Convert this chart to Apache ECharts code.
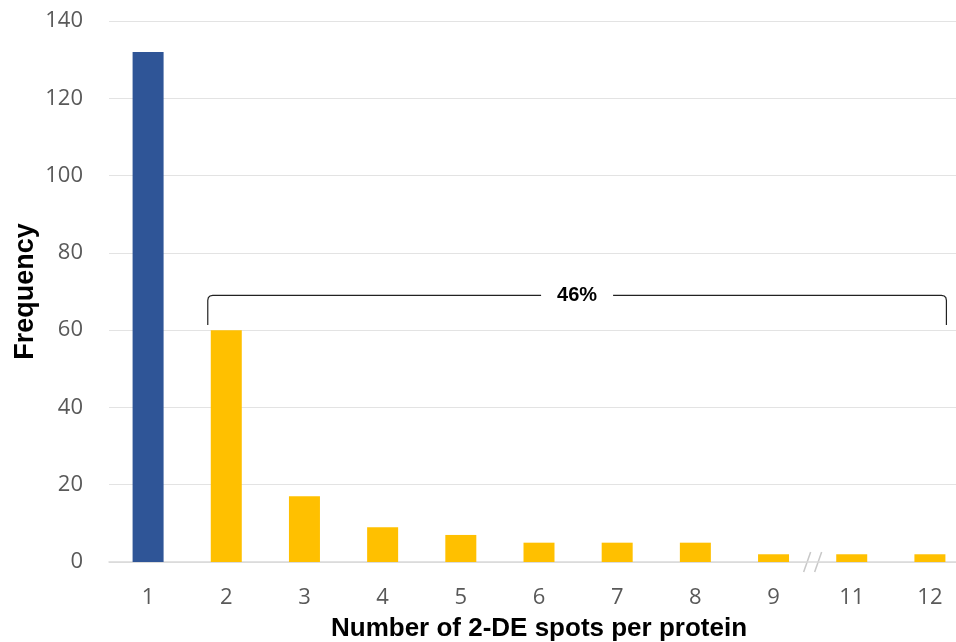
<!DOCTYPE html>
<html><head><meta charset="utf-8">
<script src="https://cdn.jsdelivr.net/npm/echarts@6/dist/echarts.min.js"></script>
<style>html,body{margin:0;padding:0;background:#fff;overflow:hidden}#c{width:956px;height:642px}</style>
</head><body><div id="c"></div>
<script>
const categories = ['1','2','3','4','5','6','7','8','9','11','12'];
const frequency = [132, 60, 17, 9, 7, 5, 5, 5, 2, 2, 2];
const barColors = ['#2F5597','#FFC000','#FFC000','#FFC000','#FFC000','#FFC000','#FFC000','#FFC000','#FFC000','#FFC000','#FFC000'];
const yTicks = {min: 0, max: 140, interval: 20};
const bracketLabel = '46%';
const bracketFrom = '2', bracketTo = '12';
const bracketTop = 69, bracketBottom = 61.3;
const breakBetween = ['9','11'];

const chart = echarts.init(document.getElementById('c'));
const labelFont = '"Open Sans", "Noto Sans", sans-serif';
const titleFont = '"Liberation Sans", Arial, sans-serif';
chart.setOption({
  animation: false,
  grid: {left: 109, width: 860, top: 21, bottom: 80, containLabel: false, outerBoundsMode: 'none'},
  xAxis: {
    type: 'category', data: categories,
    axisLine: {lineStyle: {color: '#d9d9d9', width: 1.5}},
    axisTick: {show: false},
    axisLabel: {color: '#595959', fontSize: 22, margin: 25, fontFamily: labelFont},
    name: 'Number of 2-DE spots per protein', nameLocation: 'middle', nameGap: 54,
    nameTextStyle: {color: '#000', fontSize: 26, fontWeight: 'bold', fontFamily: titleFont}
  },
  yAxis: {
    type: 'value', min: yTicks.min, max: yTicks.max, interval: yTicks.interval,
    axisLine: {show: false}, axisTick: {show: false},
    splitLine: {lineStyle: {color: '#e3e3e3', width: 1}},
    axisLabel: {color: '#595959', fontSize: 22, margin: 26, fontFamily: labelFont},
    name: 'Frequency', nameLocation: 'middle', nameGap: 70, nameRotate: 90, nameMoveOverlap: false,
    nameTextStyle: {color: '#000', fontSize: 27, fontWeight: 'bold', fontFamily: titleFont}
  },
  series: [{
    type: 'bar', barWidth: 31,
    data: frequency.map((v, i) => ({value: v, itemStyle: {color: barColors[i]}}))
  }]
});

function drawOverlay() {
  const half = 31 / 2 + 3;
  const iFrom = categories.indexOf(bracketFrom), iTo = categories.indexOf(bracketTo);
  const pFrom = chart.convertToPixel({seriesIndex: 0}, [iFrom, bracketTop]);
  const pTo = chart.convertToPixel({seriesIndex: 0}, [iTo, bracketTop]);
  const yb = chart.convertToPixel({seriesIndex: 0}, [iFrom, bracketBottom])[1];
  const x1 = pFrom[0] - half, x2 = pTo[0] + half - 2, y = pFrom[1];
  const mid = (x1 + x2) / 2;
  const gapHalf = 36;
  const i9 = categories.indexOf(breakBetween[0]), i11 = categories.indexOf(breakBetween[1]);
  const by = chart.convertToPixel({seriesIndex: 0}, [i9, 0])[1];
  const bx = (chart.convertToPixel({seriesIndex: 0}, [i9, 0])[0] + chart.convertToPixel({seriesIndex: 0}, [i11, 0])[0]) / 2;
  const lineStyle = {stroke: '#222', lineWidth: 1.2, fill: null};
  chart.setOption({graphic: [
    {type: 'polyline', shape: {points: [[x1, yb], [x1, y + 5], [x1 + 0.6, y + 2.2], [x1 + 2.2, y + 0.6], [x1 + 5, y], [mid - gapHalf, y]]}, style: lineStyle},
    {type: 'polyline', shape: {points: [[mid + gapHalf, y], [x2 - 5, y], [x2 - 2.2, y + 0.6], [x2 - 0.6, y + 2.2], [x2, y + 5], [x2, yb]]}, style: lineStyle},
    {type: 'text', x: mid, y: y, style: {text: bracketLabel, font: 'bold 20px "Liberation Sans", Arial, sans-serif', fill: '#000', align: 'center', verticalAlign: 'middle'}},
    {type: 'rect', shape: {x: bx - 5, y: by - 4, width: 10, height: 8}, style: {fill: '#fff'}},
    {type: 'line', shape: {x1: bx - 9, y1: by + 10, x2: bx - 2, y2: by - 10}, style: {stroke: '#c8c8c8', lineWidth: 1.5}},
    {type: 'line', shape: {x1: bx + 2, y1: by + 10, x2: bx + 9, y2: by - 10}, style: {stroke: '#c8c8c8', lineWidth: 1.5}}
  ]});
}
drawOverlay();
</script></body></html>
